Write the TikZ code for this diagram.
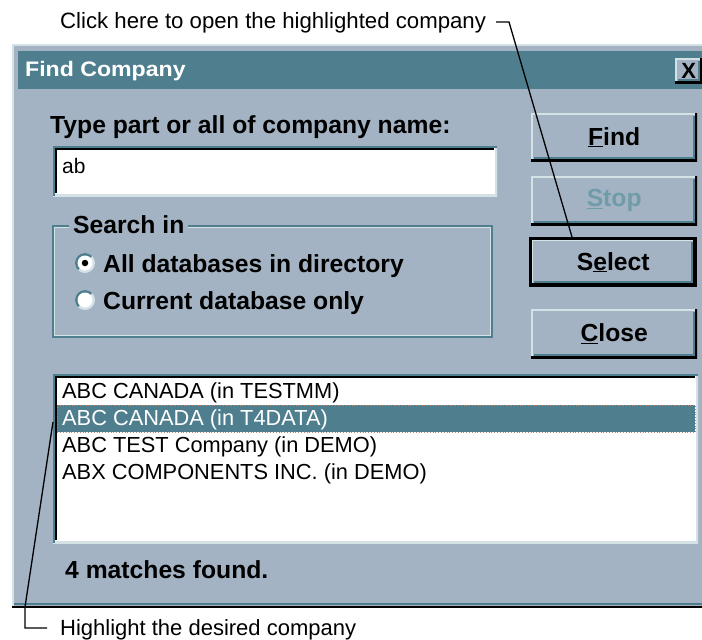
\documentclass[tikz,border=0pt]{standalone}
\usepackage{fontspec}
\setmainfont{Liberation Sans}
\newfontfamily\titlefont[FakeStretch=1.1]{Liberation Sans}
\usetikzlibrary{calc}
\definecolor{body}{HTML}{A3B3C3}
\definecolor{edgeteal}{HTML}{4F7F8E}
\definecolor{lite}{HTML}{D4E2E6}
\definecolor{graytext}{HTML}{6F9BAA}
\definecolor{focus}{HTML}{C08A6A}
\begin{document}
\begin{tikzpicture}[x=1pt,y=-1pt,
  note/.style={anchor=base west, inner sep=0, font=\fontsize{22.2}{26}\selectfont},
  ui/.style={anchor=base west, inner sep=0, font=\fontsize{24.7}{28}\selectfont\bfseries},
  item/.style={anchor=base west, inner sep=0, font=\fontsize{21.8}{25}\selectfont},
  leader/.style={draw=black, line width=1.3pt},
  raised/.style={path picture={
    \path (path picture bounding box.south west) ++(#1pt,#1pt) coordinate (pa);
    \path (path picture bounding box.north east) ++(-#1pt,-#1pt) coordinate (pb);
    \draw[lite,line width=4pt] (pa) |- (pb);
    \draw[black,line width=4pt] (pa) -| (pb);
    \draw[edgeteal,line width=2pt] ([shift={(3pt,3pt)}]pa) -| ([shift={(-3pt,-3pt)}]pb);
  }},
  raised/.default=0,
  sunken/.style={path picture={
    \path (path picture bounding box.south west) coordinate (pa);
    \path (path picture bounding box.north east) coordinate (pb);
    \draw[lite,line width=4pt] (pa) -| (pb);
    \draw[edgeteal,line width=4pt] (pa) |- (pb);
    \draw[black,line width=2pt] ([shift={(3pt,3pt)}]pa) |- ([shift={(-3pt,-3pt)}]pb);
  }},
  btn/.style={anchor=north west, inner sep=0, minimum width=166pt, minimum height=48pt,
    fill=body, raised, font=\fontsize{24.7}{28}\selectfont\bfseries},
  radio/.style={circle, minimum size=20pt, inner sep=0, fill=lite, path picture={
    \fill[edgeteal] (path picture bounding box.south west) -- (path picture bounding box.north west)
      -- (path picture bounding box.north east) -- cycle;}},
  radioin/.style={circle, minimum size=15pt, inner sep=0, fill=white},
  dot/.style={circle, minimum size=6.5pt, inner sep=0, fill=black}
]
\useasboundingbox[fill=white] (0,0) rectangle (702,640);

% top annotation
\node[note] (topnote) at (60,28) {Click here to open the highlighted company};

% dialog frame
\fill[body] (12,44) rectangle (702,608);
\draw[lite,line width=2pt] (13,606) -- (13,45) -- (702,45);
\draw[edgeteal,line width=2pt] (14,604) -- (702,604);
\draw[black,line width=2pt] (12,607) -- (702,607);

% title bar
\fill[edgeteal] (18,51) rectangle (702,89);
\node[anchor=base west, inner sep=0, text=white, font=\fontsize{21}{24}\titlefont\bfseries] (title) at (25,76) {Find Company};
\node[anchor=north west, inner sep=0, minimum width=27pt, minimum height=25pt, fill=body, raised,
  font=\fontsize{22}{24}\selectfont\bfseries] (closex) at (675,58) {X};

% name field
\node[ui] (typelbl) at (50,133) {Type part or all of company name:};
\node[anchor=north west, inner sep=0, minimum width=444pt, minimum height=50pt, fill=white, sunken] (namebox) at (53,146) {};
\node[anchor=base west, inner sep=0, font=\fontsize{21}{24}\selectfont] (abtext) at (62,173) {ab};

% group box
\draw[edgeteal,line width=1.5pt] (53,226) rectangle (492,337);
\draw[lite,line width=1.5pt] (54.5,227.5) -- (54.5,335.5) -- (490.5,335.5) -- (490.5,227.5) -- cycle;
\node[ui, fill=body, inner xsep=4pt, inner ysep=2pt] (searchin) at (69,233) {Search in};
\node[radio] (r1) at (85,263) {};
\node[radioin] (r1in) at (r1) {};
\node[dot] (r1dot) at (r1) {};
\node[ui] (opt1) at (103,272) {All databases in directory};
\node[radio] (r2) at (85,300) {};
\node[radioin] (r2in) at (r2) {};
\node[ui] (opt2) at (103,309) {Current database only};

% buttons
\node[btn] (find) at (531,113) {\underline{F}ind};
\node[btn, minimum height=49pt, text=graytext] (stop) at (531,176) {\underline{S}top};
\node[btn, minimum width=168pt, minimum height=50pt, raised=2] (sel) at (529,237) {S\underline{e}lect};
\draw[black,line width=2.5pt] ([shift={(1.25pt,-1.25pt)}]sel.north west) rectangle ([shift={(-1.25pt,1.25pt)}]sel.south east);
\node[btn, minimum height=49pt] (close) at (531,309) {\underline{C}lose};

% list box
\node[anchor=north west, inner sep=0, minimum width=645pt, minimum height=169pt, fill=white, sunken] (list) at (53,374) {};
\node[anchor=north west, inner sep=0, minimum width=638pt, minimum height=27pt, fill=edgeteal,
  draw=focus, dotted, line width=0.8pt] (hl) at (57,405) {};
\node[item] (it1) at (62,398) {ABC CANADA (in TESTMM)};
\node[item, text=white] (it2) at (62,425) {ABC CANADA (in T4DATA)};
\node[item] (it3) at (62,452) {ABC TEST Company (in DEMO)};
\node[item] (it4) at (62,479) {ABX COMPONENTS INC. (in DEMO)};

\node[ui] (matches) at (65,578) {4 matches found.};

% bottom annotation
\node[note, font=\fontsize{22}{26}\selectfont] (botnote) at (60,635) {Highlight the desired company};

% leaders
\coordinate (hookA) at (496,22);
\coordinate (hookB) at (509,22);
\draw[leader] (hookA) -- (hookB) -- ($(sel.north west)+(43,0)$);
\coordinate (bendA) at (25,607);
\coordinate (bendB) at (25,628);
\coordinate (endB) at (47,628);
\draw[leader] ($(hl.west)+(-4,3)$) -- (bendA) -- (bendB) -- (endB);
\end{tikzpicture}
\end{document}
